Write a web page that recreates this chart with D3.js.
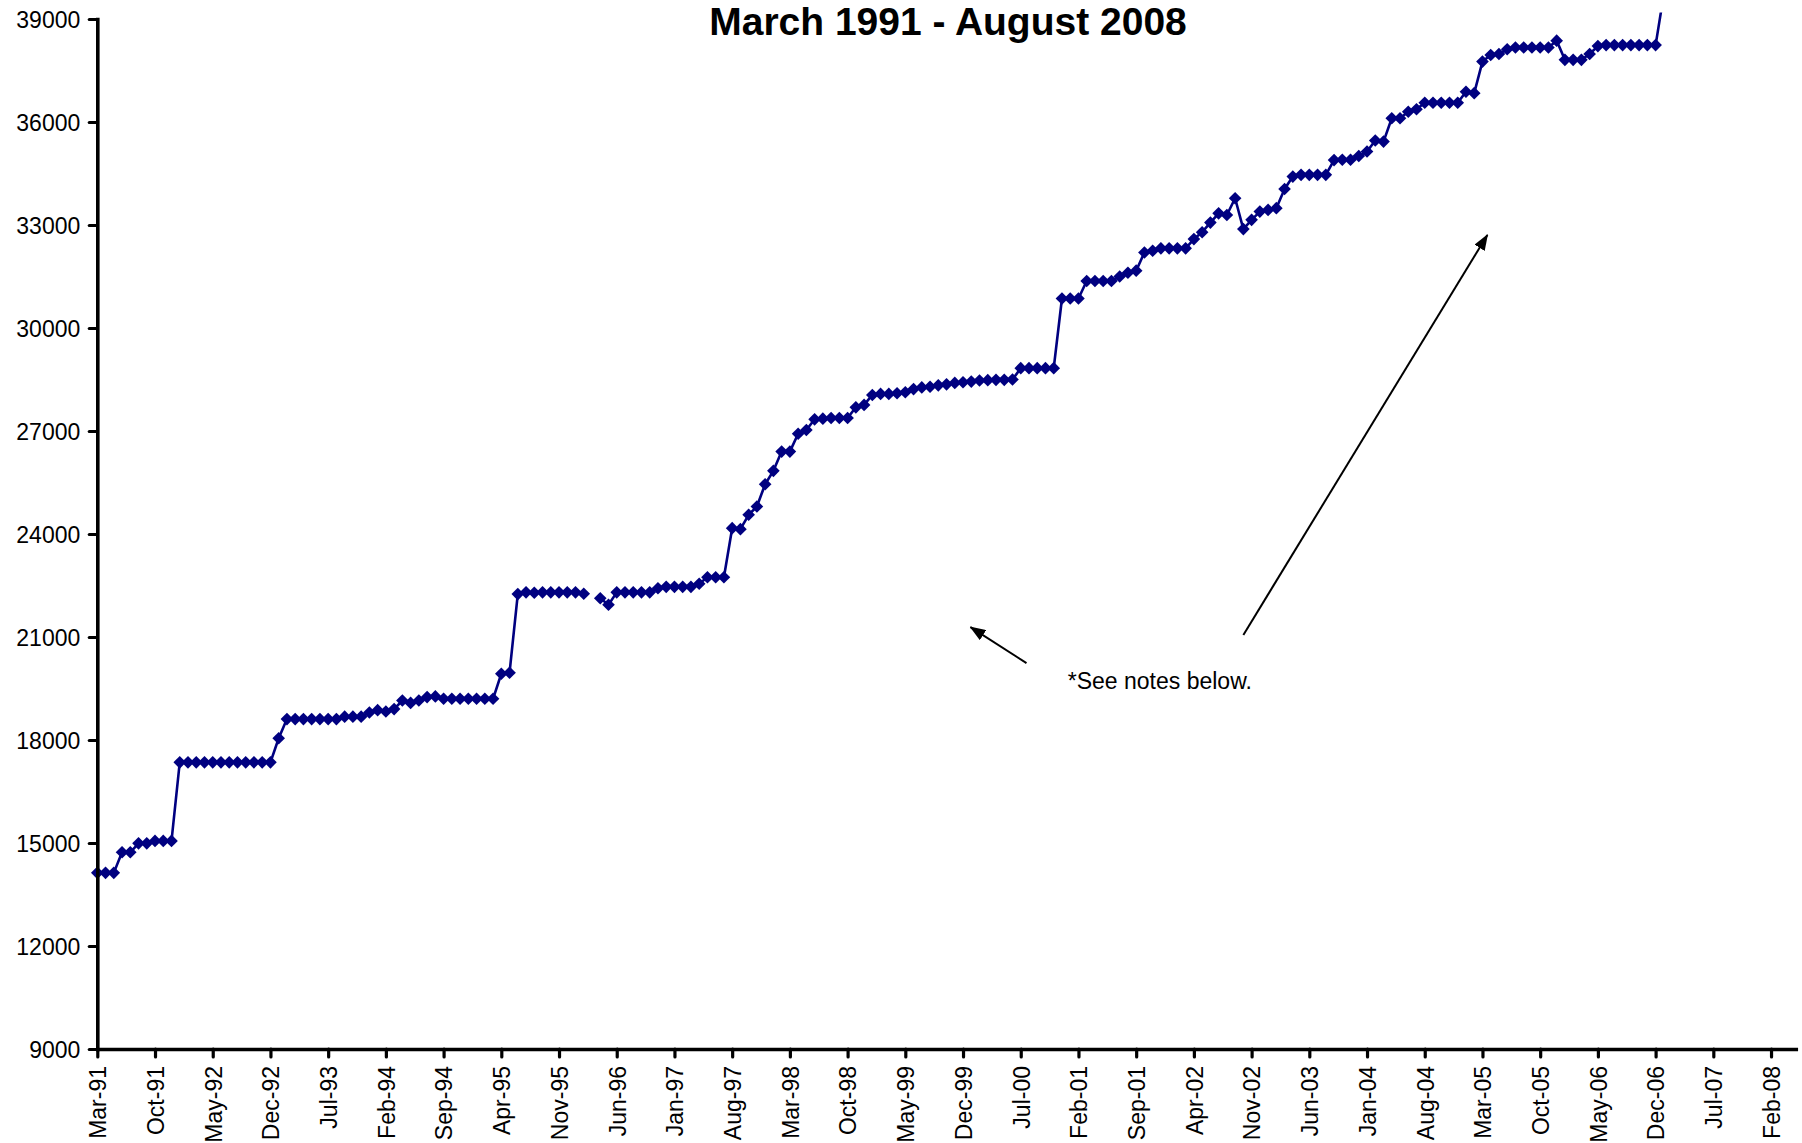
<!DOCTYPE html>
<html>
<head>
<meta charset="utf-8">
<script src="https://cdn.jsdelivr.net/npm/d3@7"></script>
<style>
  html, body { margin: 0; padding: 0; background: #fff; }
  svg text { font-family: Arial, 'Liberation Sans', Helvetica, sans-serif; fill: #000; }
</style>
</head>
<body>
<svg id="chart"></svg>
<script>
const width = 1802
const height = 1143
const chartMargin = { top: 19, right: 6, bottom: 94, left: 97.3 }
const monthWidth = 8.245

// first month of the series (Mar-91), one value per month, null = no data
const startMonth = new Date(1991, 2, 1)
const values = [
  14130, 14130, 14130, 14730, 14730, 14990, 14990, 15060, 15060, 15060,
  17350, 17350, 17350, 17350, 17350, 17350, 17350, 17350, 17350, 17350, 17350, 17350,
  18050, 18610, 18610, 18610, 18610, 18610, 18610, 18610, 18680, 18680, 18680,
  18800, 18870, 18830, 18900, 19150, 19080, 19150, 19250, 19270,
  19200, 19200, 19200, 19200, 19200, 19200, 19200, 19930, 19960,
  22250, 22300, 22290, 22300, 22300, 22300, 22300, 22300, 22260,
  null, 22130, 21940,
  22300, 22300, 22300, 22300, 22300, 22420, 22460, 22460, 22460, 22460,
  22550, 22740, 22740, 22740,
  24170, 24140, 24560, 24800, 25450, 25840, 26400, 26400,
  26920, 27030, 27340, 27360, 27380, 27380, 27380, 27690, 27760,
  28050, 28080, 28080, 28100, 28130, 28220, 28270, 28290, 28330, 28360,
  28400, 28420, 28440, 28470, 28480, 28490, 28490, 28500,
  28830, 28830, 28830, 28830, 28830, 30860, 30860, 30860,
  31370, 31370, 31370, 31370, 31500, 31610, 31670, 32200, 32250,
  32320, 32320, 32320, 32320,
  32590, 32790, 33070, 33340, 33290, 33780, 32880, 33150, 33390, 33440, 33490,
  34050, 34410, 34460, 34460, 34460, 34460,
  34890, 34900, 34900, 35010, 35140, 35460, 35430, 36110, 36110, 36300, 36370,
  36560, 36560, 36560, 36560, 36560, 36880, 36840,
  37760, 37950, 37980, 38120, 38170, 38170, 38170, 38170, 38170,
  38370, 37810, 37810, 37810, 37980, 38210,
  38240, 38240, 38240, 38240, 38240, 38240, 38240,
  39730
]

const yTicks = [9000, 12000, 15000, 18000, 21000, 24000, 27000, 30000, 33000, 36000, 39000]
const xTickLabels = [
  'Mar-91', 'Oct-91', 'May-92', 'Dec-92', 'Jul-93', 'Feb-94', 'Sep-94', 'Apr-95', 'Nov-95', 'Jun-96',
  'Jan-97', 'Aug-97', 'Mar-98', 'Oct-98', 'May-99', 'Dec-99', 'Jul-00', 'Feb-01', 'Sep-01', 'Apr-02',
  'Nov-02', 'Jun-03', 'Jan-04', 'Aug-04', 'Mar-05', 'Oct-05', 'May-06', 'Dec-06', 'Jul-07', 'Feb-08'
]
const xTickStep = 7 // months between labels

const titleText = 'March 1991 - August 2008'
const noteText = '*See notes below.'
// note + arrows, in data units: [month index, value]
const noteAnchor = [117.7, 19500]
const arrows = [
  { from: [112.7, 20240], to: [105.9, 21290] },
  { from: [139.0, 21060], to: [168.6, 32710] }
]

const lineColor = '#000080'

const data = values.map((v, i) => ({
  i,
  date: d3.timeMonth.offset(startMonth, i),
  value: v
}))

const svg = d3.select('#chart')
  .attr('width', width)
  .attr('height', height)
  .attr('viewBox', `0 0 ${width} ${height}`)

svg.append('rect')
  .attr('width', width)
  .attr('height', height)
  .attr('fill', '#fff')

const xMax = 206
const x = d3.scaleLinear()
  .domain([0, xMax])
  .range([chartMargin.left, chartMargin.left + xMax * monthWidth])

const y = d3.scaleLinear()
  .domain([9000, 39000])
  .range([height - chartMargin.bottom, chartMargin.top])

// plot area clip (line runs out the top after Dec-06)
svg.append('defs')
  .append('clipPath')
  .attr('id', 'plot-clip')
  .append('rect')
  .attr('x', x(0) - 8)
  .attr('y', 12.5)
  .attr('width', x(xMax) - x(0) + 8)
  .attr('height', y(9000) - 12.5)

// arrowhead
svg.select('defs')
  .append('marker')
  .attr('id', 'arrow-head')
  .attr('markerUnits', 'userSpaceOnUse')
  .attr('viewBox', '0 0 16 12')
  .attr('refX', 15)
  .attr('refY', 6)
  .attr('markerWidth', 16)
  .attr('markerHeight', 12)
  .attr('orient', 'auto')
  .append('path')
  .attr('d', 'M0,0 L16,6 L0,12 Z')
  .attr('fill', '#000')

// 線
const plot = svg.append('g').attr('clip-path', 'url(#plot-clip)')

const line = d3.line()
  .defined(d => d.value !== null)
  .x(d => x(d.i))
  .y(d => y(d.value))

plot.append('path')
  .datum(data)
  .attr('d', line)
  .attr('fill', 'none')
  .attr('stroke', lineColor)
  .attr('stroke-width', 2.6)
  .attr('stroke-linejoin', 'round')

// diamond markers (square turned 45deg)
const diamond = d3.symbol().type(d3.symbolSquare).size(80)
plot.selectAll('.marker')
  .data(data.filter(d => d.value !== null))
  .enter()
  .append('path')
  .attr('class', 'marker')
  .attr('d', diamond)
  .attr('transform', d => `translate(${x(d.i)},${y(d.value)}) rotate(45)`)
  .attr('fill', lineColor)

// y 軸
const yAxis = svg.append('g')
  .attr('transform', `translate(${chartMargin.left},0)`)
  .call(d3.axisLeft(y)
    .tickValues(yTicks)
    .tickFormat(d3.format('d'))
    .tickSize(8)
    .tickSizeOuter(0)
    .tickPadding(9))

// x 軸
const xAxis = svg.append('g')
  .attr('transform', `translate(0,${y(9000)})`)
  .call(d3.axisBottom(x)
    .tickValues(xTickLabels.map((_, k) => k * xTickStep))
    .tickFormat((d, k) => xTickLabels[k])
    .tickSize(8)
    .tickSizeOuter(0))

;[yAxis, xAxis].forEach(axis => {
  axis.select('.domain')
    .attr('stroke', '#000')
    .attr('stroke-width', 3.6)
    .attr('stroke-linecap', 'square')
  axis.selectAll('.tick line')
    .attr('stroke', '#000')
    .attr('stroke-width', 3.2)
    .attr('stroke-linecap', 'round')
  axis.selectAll('.tick text')
    .attr('font-size', 23)
    .attr('fill', '#000')
})

yAxis.selectAll('.tick text')
  .attr('dy', '0.36em')

xAxis.selectAll('.tick text')
  .attr('transform', 'rotate(-90)')
  .attr('x', -17)
  .attr('y', 0)
  .attr('dy', '0.36em')
  .attr('text-anchor', 'end')

// title (kept just inside the top edge)
svg.append('text')
  .attr('x', 948)
  .attr('y', 35)
  .attr('text-anchor', 'middle')
  .attr('font-size', 39)
  .attr('font-weight', 'bold')
  .text(titleText)

// note + arrows
svg.append('text')
  .attr('x', x(noteAnchor[0]))
  .attr('y', y(noteAnchor[1]))
  .attr('font-size', 23)
  .text(noteText)

svg.selectAll('.note-arrow')
  .data(arrows)
  .enter()
  .append('line')
  .attr('class', 'note-arrow')
  .attr('x1', d => x(d.from[0]))
  .attr('y1', d => y(d.from[1]))
  .attr('x2', d => x(d.to[0]))
  .attr('y2', d => y(d.to[1]))
  .attr('stroke', '#000')
  .attr('stroke-width', 2)
  .attr('marker-end', 'url(#arrow-head)')
</script>
</body>
</html>
